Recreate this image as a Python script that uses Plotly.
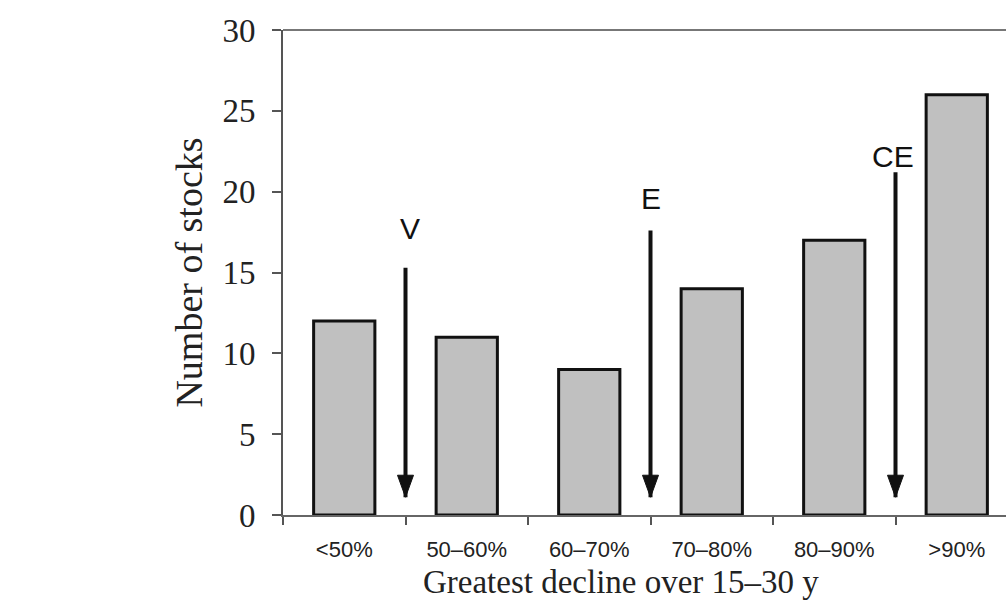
import plotly.graph_objects as go

# Distribution of stocks by greatest decline over 15-30 years
categories = ["<50%", "50–60%", "60–70%", "70–80%", "80–90%", ">90%"]
num_stocks = [12, 11, 9, 14, 17, 26]

# Threshold arrows drawn between categories (V, E, CE)
arrow_labels = ["V", "E", "CE"]
arrow_x = [0.5, 2.5, 4.5]
arrow_top = [15.3, 17.6, 21.2]
arrow_tip = [1.1, 1.1, 1.1]
label_y = [17.7, 19.6, 22.2]
label_dx = [0.04, 0.0, -0.02]

fig = go.Figure()
fig.add_trace(go.Bar(
    x=list(range(len(categories))),
    y=num_stocks,
    width=0.5,
    marker=dict(color="#c0c0c0", line=dict(color="#111111", width=3)),
    showlegend=False,
    hoverinfo="skip",
))

shapes = [
    # frame line along the top of the plot area, running out to the page edge
    dict(type="line", xref="paper", yref="paper", x0=0, x1=1,
         y0=1, y1=1, line=dict(color="#777777", width=2)),
    # the frame stays open on the right-hand side
    dict(type="line", xref="paper", yref="paper", x0=1, x1=1,
         y0=0.006, y1=0.994, line=dict(color="white", width=5), layer="above"),
]
annotations = [
    dict(text="Greatest decline over 15–30 y", xref="paper", yref="paper",
         x=0.468, y=0, yshift=-67, showarrow=False, xanchor="center", yanchor="middle",
         font=dict(family="Liberation Serif, Times New Roman", size=33, color="#222222")),
]
for lab, xv, yt, yb, ly, dx in zip(arrow_labels, arrow_x, arrow_top, arrow_tip, label_y, label_dx):
    # shaft
    shapes.append(dict(type="line", xref="x", yref="y", x0=xv, x1=xv, y0=yt, y1=yb,
                       line=dict(color="#111111", width=4), layer="above"))
    # arrowhead, sized in pixels and anchored on the tip
    shapes.append(dict(type="path", xref="x", yref="y",
                       xsizemode="pixel", ysizemode="pixel", xanchor=xv, yanchor=yb,
                       path="M -8 22 L 8 22 L 0 0 Z",
                       fillcolor="#111111", line=dict(color="#111111", width=1),
                       layer="above"))
    annotations.append(dict(x=xv + dx, y=ly, xref="x", yref="y", text=lab, showarrow=False,
                            font=dict(family="Liberation Sans, Arial", size=30, color="#111111")))

fig.update_layout(
    width=1006, height=611,
    margin=dict(l=283, r=0, t=30, b=96, autoexpand=False),
    paper_bgcolor="white", plot_bgcolor="white",
    bargap=0.5,
    shapes=shapes,
    annotations=annotations,
    xaxis=dict(
        range=[-0.5, 5.402],
        tickmode="array",
        tickvals=list(range(len(categories))),
        ticktext=categories,
        tickfont=dict(family="Liberation Sans, Arial", size=22, color="#222222"),
        ticklabelstandoff=14,
        showline=True, linecolor="#666666", linewidth=2,
        showgrid=False, zeroline=False,
        ticks="",
        minor=dict(tickvals=[-0.5, 0.5, 1.5, 2.5, 3.5, 4.5], ticks="outside",
                   ticklen=8, tickwidth=2, tickcolor="#555555", showgrid=False),
    ),
    yaxis=dict(
        range=[0, 30],
        tickvals=[0, 5, 10, 15, 20, 25, 30],
        tickfont=dict(family="Liberation Serif, Times New Roman", size=33, color="#222222"),
        ticklabelstandoff=10,
        showline=True, linecolor="#555555", linewidth=2,
        ticks="outside", ticklen=9, tickwidth=2, tickcolor="#555555",
        showgrid=False, zeroline=False,
        title=dict(text="Number of stocks",
                   font=dict(family="Liberation Serif, Times New Roman", size=38, color="#222222"),
                   standoff=8),
    ),
)

fig.write_html("out.html", config={"displayModeBar": False})
